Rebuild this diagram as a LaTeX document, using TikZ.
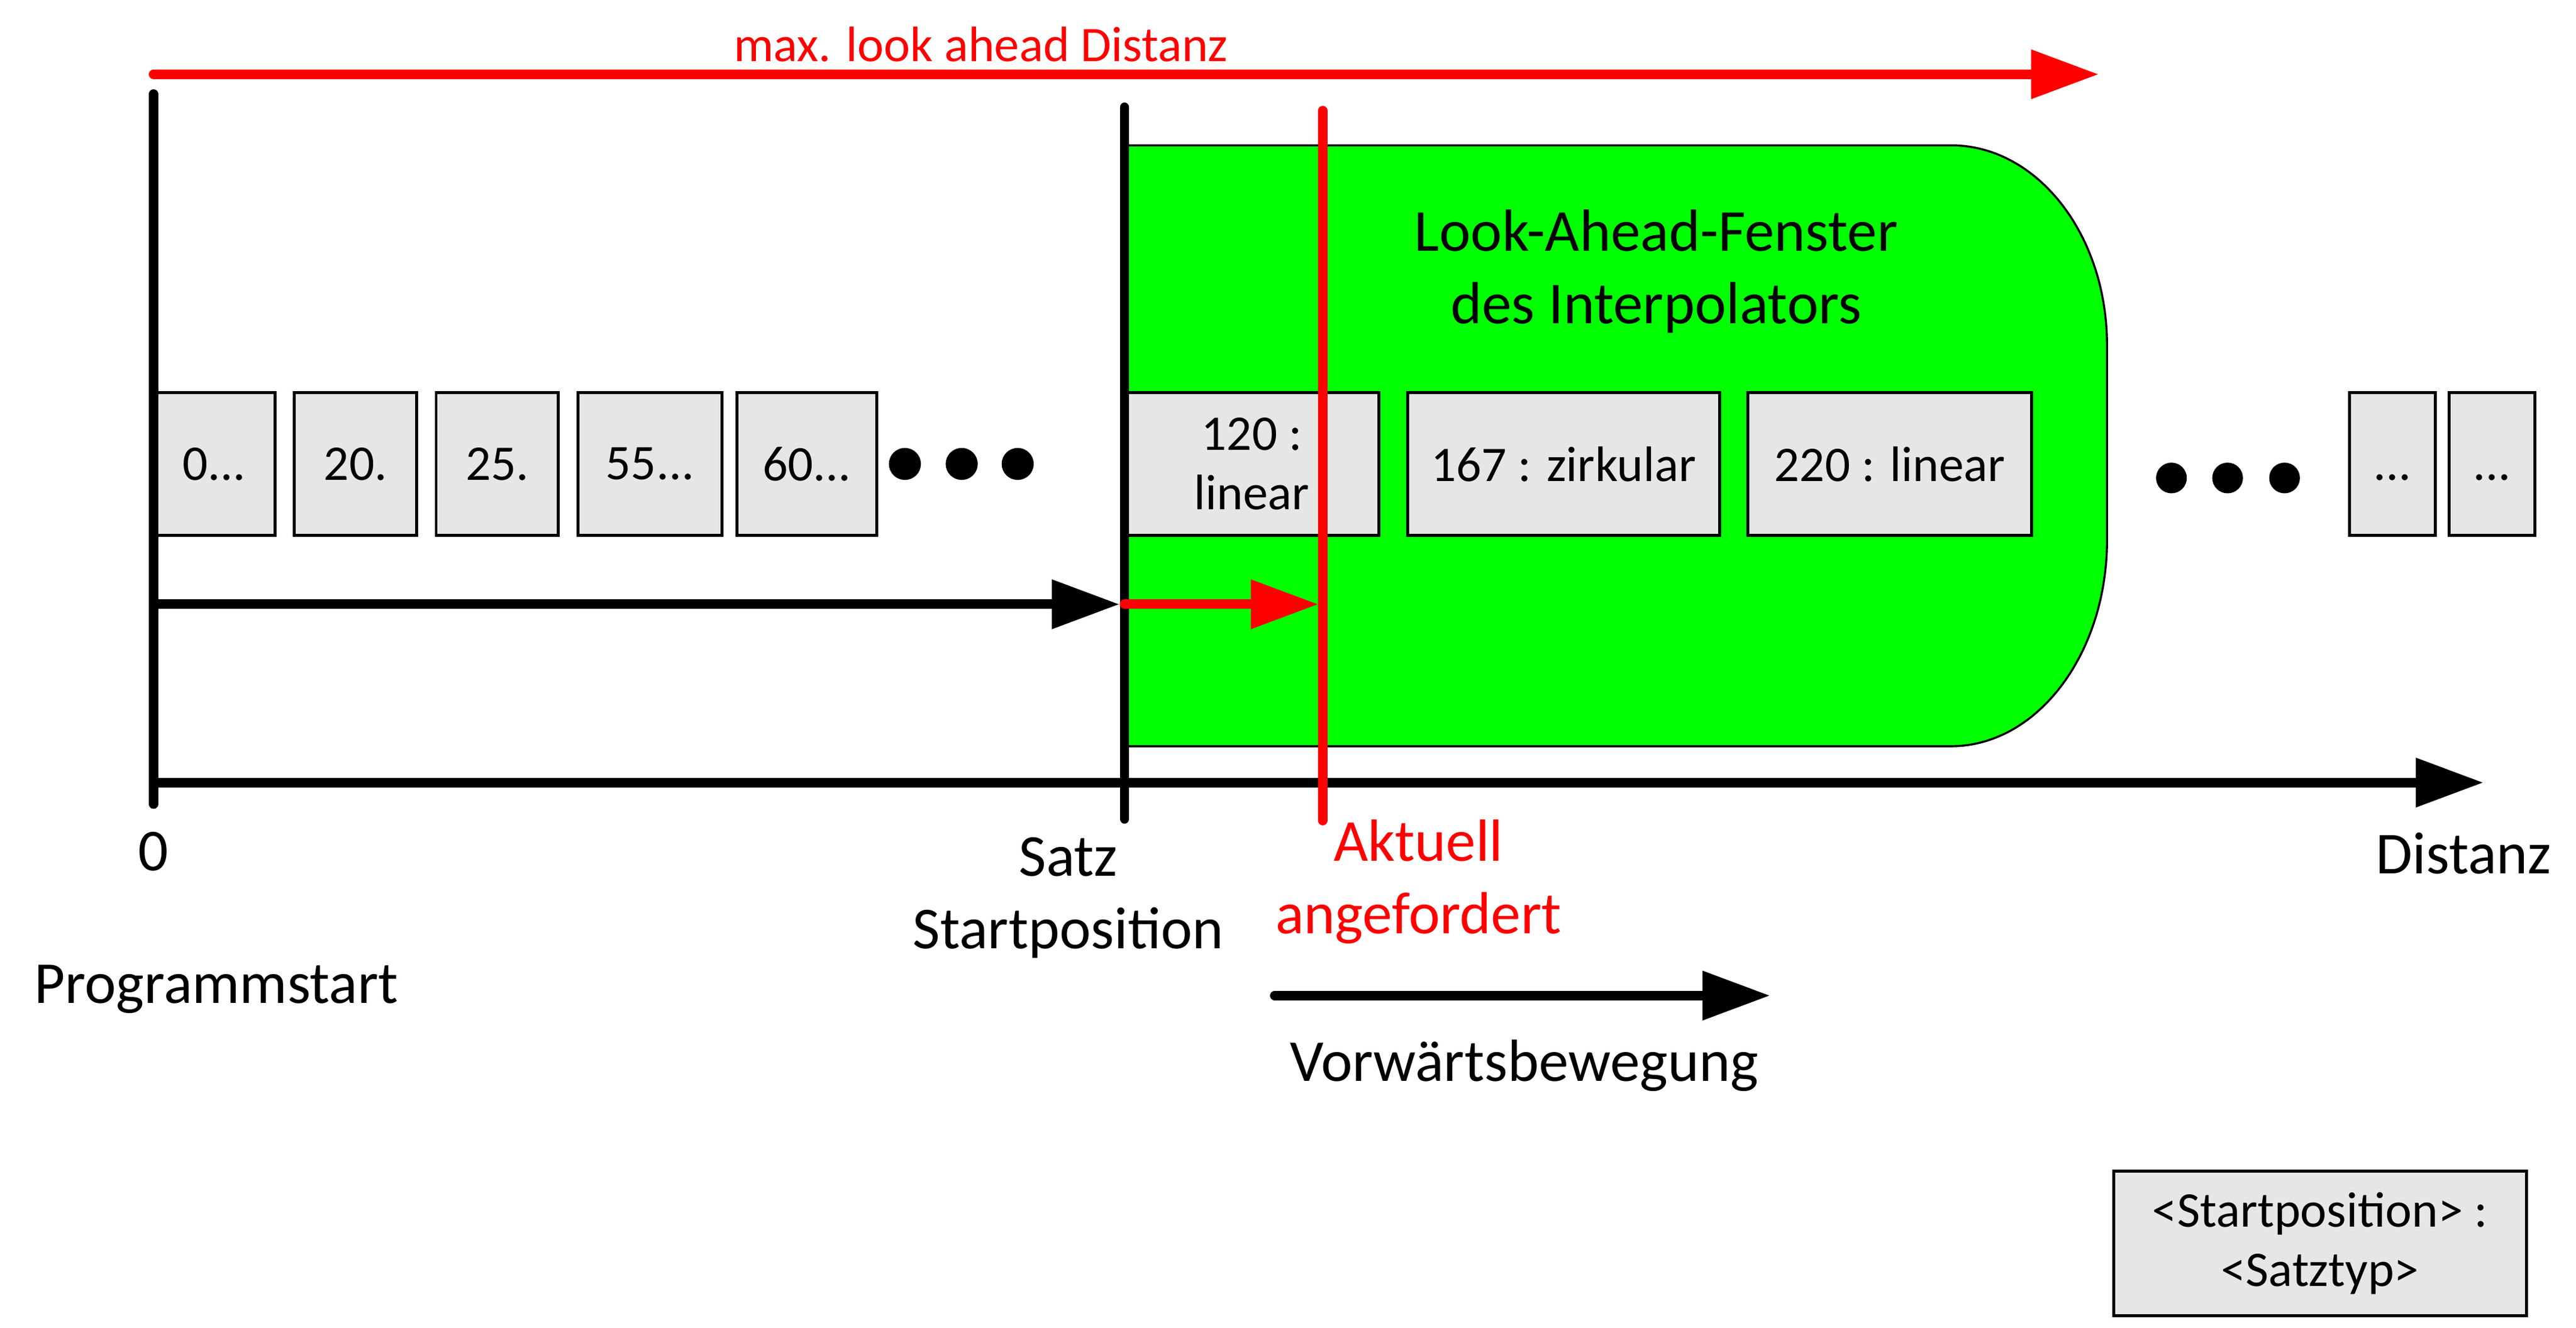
\documentclass[tikz,border=0pt]{standalone}
\usepackage{fontspec}
\setmainfont{Carlito}
\usetikzlibrary{arrows.meta}
\definecolor{windowgreen}{RGB}{0,255,0}
\definecolor{boxgray}{RGB}{230,230,230}
\newcommand\satzdots{.\kern0pt.\kern0pt.}

\begin{document}
\begin{tikzpicture}[x=0.02cm, y=-0.02cm,
  bar/.style={line width=3.3pt, line cap=round},
  arr/.style={bar, -{Triangle[length=0.82cm, width=0.57cm]}},
  satz/.style={draw, line width=1pt, fill=boxgray, minimum height=1.73cm, inner sep=0pt, align=center, font=\fontsize{17.2}{20.5}\selectfont},
  lbl/.style={align=center, font=\fontsize{20.5}{25}\selectfont}]

\useasboundingbox (0,0) rectangle (1560,804);

% Look-ahead window
\filldraw[fill=windowgreen, line width=0.7pt] (681,88) -- (1181.5,88)
  arc[start angle=90, end angle=0, x radius=1.89cm, y radius=2.42cm]
  -- (1276,327) arc[start angle=0, end angle=-90, x radius=1.89cm, y radius=2.5cm]
  -- (681,452) -- cycle;
\node[lbl, anchor=base] (window) at (1003,196) {Look-Ahead-Fenster\\des Interpolators};

% Blocks (start position : type)
\node[satz, minimum width=1.47cm] (s0) at (129.7,281) {0\satzdots};
\node[satz, minimum width=1.48cm] (s20) at (215.3,281) {20.};
\node[satz, minimum width=1.48cm] (s25) at (301.1,281) {25.};
\node[satz, minimum width=1.74cm] (s55) at (393.6,281) {55\satzdots};
\node[satz, minimum width=1.69cm] (s60) at (488.7,281) {60\satzdots};
\node[satz, minimum width=3.08cm] (s120) at (758,281) {120 :\\linear};
\node[satz, minimum width=3.78cm] (s167) at (946.9,281) {167 : zirkular};
\node[satz, minimum width=3.44cm] (s220) at (1144.4,281) {220 : linear};
\node[satz, minimum width=1.04cm] (sa) at (1448.9,281) {\vphantom{0}\satzdots};
\node[satz, minimum width=1.04cm] (sb) at (1509,281) {\vphantom{0}\satzdots};

% Dots
\fill (548,281) circle[radius=0.194cm];
\fill (582.4,281) circle[radius=0.194cm];
\fill (616.3,281) circle[radius=0.194cm];
\fill (1315,289.5) circle[radius=0.186cm];
\fill (1349,289.5) circle[radius=0.186cm];
\fill (1383.5,289.5) circle[radius=0.186cm];

% Legend
\node[satz, minimum width=5cm, minimum height=1.75cm] (legend) at (1405,753) {<Startposition> :\\<Satztyp>};

% Axis and positions
\coordinate (origin) at (93,474);
\coordinate (axisend) at (1504,474);
\coordinate (progtop) at (93,57);
\coordinate (progbot) at (93,487);
\coordinate (satztop) at (681,65);
\coordinate (satzbot) at (681,496);
\coordinate (akttop) at (801,67);
\coordinate (aktbot) at (801,497);
\draw[arr] (origin) -- (axisend);
\draw[bar] (progtop) -- (progbot);
\draw[bar] (satztop) -- (satzbot);
\draw[bar, red] (akttop) -- (aktbot);

% Max. look ahead distance
\coordinate (maxstart) at (93,45);
\coordinate (maxend) at (1271,45);
\draw[arr, red] (maxstart) -- (maxend);
\node[red, font=\fontsize{17.2}{20.5}\selectfont, anchor=base] (maxlbl) at (594,37.4) {max. look ahead Distanz};

% Progress arrows
\coordinate (runstart) at (93,366);
\coordinate (runend) at (678,366);
\coordinate (reqstart) at (681,366);
\coordinate (reqend) at (798.5,366);
\draw[arr] (runstart) -- (runend);
\draw[arr, red] (reqstart) -- (reqend);

% Labels
\node[lbl, anchor=base] (zero) at (93,527.4) {0};
\node[lbl, anchor=base] (progstart) at (131,607.5) {Programmstart};
\node[lbl, anchor=base] (satzpos) at (647,574.5) {Satz\\Startposition};
\node[lbl, anchor=base, red] (aktuell) at (859,565.3) {Aktuell\\angefordert};
\node[lbl, anchor=base] (distanz) at (1492,529) {Distanz};

% Forward motion
\coordinate (fwdstart) at (772,603);
\coordinate (fwdend) at (1072,603);
\draw[arr] (fwdstart) -- (fwdend);
\node[lbl, anchor=base] (fwdlbl) at (923,655) {Vorwärtsbewegung};

\end{tikzpicture}
\end{document}
